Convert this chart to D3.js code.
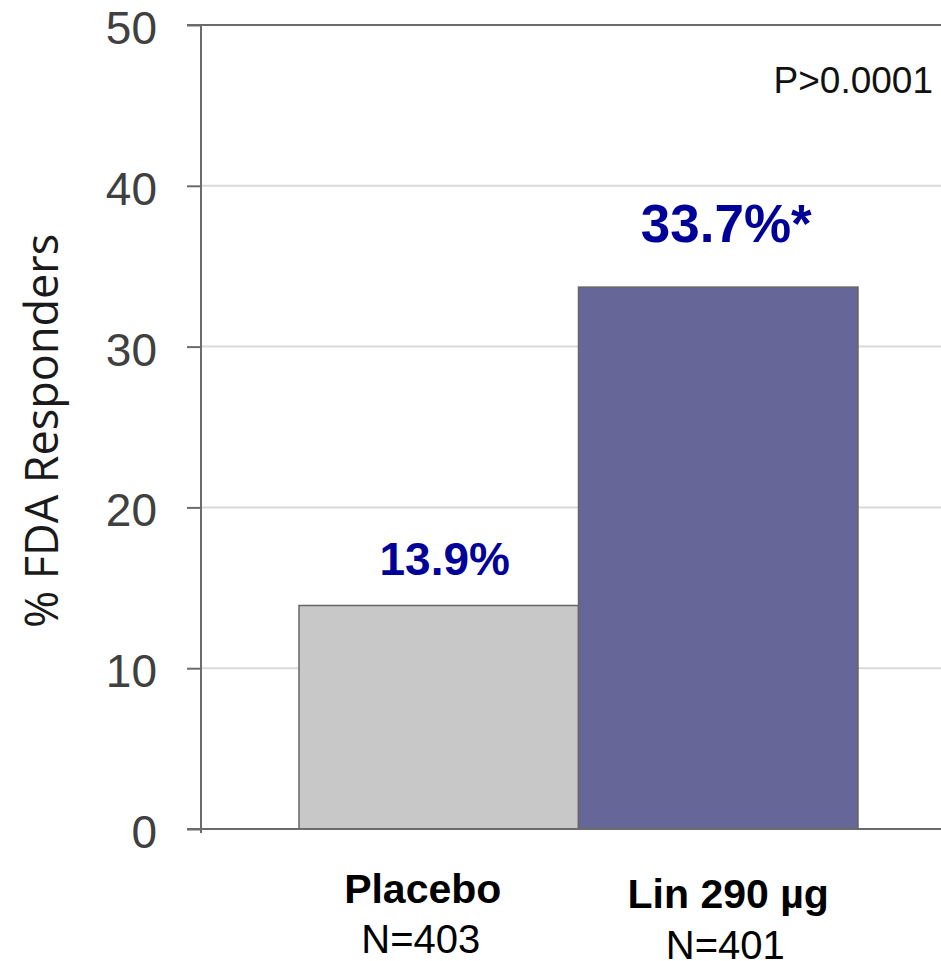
<!DOCTYPE html>
<html>
<head>
<meta charset="utf-8">
<script src="https://d3js.org/d3.v7.min.js"></script>
<style>
body { margin: 0; background: #fff; }
svg { display: block; }
</style>
</head>
<body>
<div id="chart"></div>
<script>
  // data
  var categories = ["Placebo", "Lin 290 µg"];
  var counts = ["N=403", "N=401"];
  var values = [13.9, 33.7];
  var valueLabels = ["13.9%", "33.7%*"];
  var yTicks = [0, 10, 20, 30, 40, 50];
  var pText = "P>0.0001";

  var width = 941;
  var height = 961;

  var svg = d3.select("#chart").append("svg")
    .attr("width", width)
    .attr("height", height);

  var yScale = d3.scaleLinear().domain([0, 50]).range([829, 25]);
  var xScale = d3.scaleBand().domain(categories).range([299, 858]).padding(0);

  var axisX = 201;

  // grid lines
  svg.append("g").selectAll("line")
    .data(yTicks.filter(function(d) { return d > 0 && d < 50; }))
    .enter().append("line")
      .attr("x1", axisX).attr("x2", width)
      .attr("y1", function(d) { return yScale(d); })
      .attr("y2", function(d) { return yScale(d); })
      .attr("stroke", "#d9d9d9")
      .attr("stroke-width", 2);

  // top border line
  svg.append("line")
    .attr("x1", 187).attr("x2", width)
    .attr("y1", yScale(50)).attr("y2", yScale(50))
    .attr("stroke", "#6b6b6b").attr("stroke-width", 2);

  // bars
  var barColors = ["#c8c8c8", "#666699"];
  svg.append("g").selectAll("rect")
    .data(values)
    .enter().append("rect")
      .attr("x", function(d, i) { return xScale(categories[i]); })
      .attr("y", function(d) { return yScale(d); })
      .attr("width", xScale.bandwidth())
      .attr("height", function(d) { return yScale(0) - yScale(d); })
      .attr("fill", function(d, i) { return barColors[i]; })
      .attr("stroke", "#666")
      .attr("stroke-width", 1.5);

  // y axis
  var yAxis = svg.append("g")
    .attr("transform", "translate(" + axisX + ",0)")
    .call(d3.axisLeft(yScale).tickValues(yTicks).tickSize(14).tickPadding(30));
  yAxis.select(".domain").attr("stroke", "#6b6b6b").attr("stroke-width", 2)
    .attr("d", "M0," + yScale(50) + "V" + (yScale(0) + 4));
  yAxis.selectAll(".tick line").attr("stroke", "#6b6b6b").attr("stroke-width", 2);
  yAxis.selectAll(".tick text")
    .attr("fill", "#404040")
    .attr("dy", "0.4em")
    .style("font-family", "'Liberation Sans', Arial, sans-serif")
    .style("font-size", "46px");

  // bottom axis line
  svg.append("line")
    .attr("x1", 187).attr("x2", width)
    .attr("y1", yScale(0)).attr("y2", yScale(0))
    .attr("stroke", "#6b6b6b").attr("stroke-width", 2);

  // value labels
  var labelSizes = [46, 53];
  var labelBase = [575, 242];
  var labelShift = [6, 8];
  svg.append("g").selectAll("text")
    .data(valueLabels)
    .enter().append("text")
      .attr("x", function(d, i) { return xScale(categories[i]) + xScale.bandwidth() / 2 + labelShift[i]; })
      .attr("y", function(d, i) { return labelBase[i]; })
      .attr("text-anchor", "middle")
      .attr("fill", "#000099")
      .style("font-family", "'Liberation Sans', Arial, sans-serif")
      .style("font-weight", "bold")
      .style("font-size", function(d, i) { return labelSizes[i] + "px"; })
      .text(function(d) { return d; });

  // category labels
  var catBase = [903, 908];
  var catShift = [-16, 10];
  var nBase = [953, 959];
  var nShift = [-18, 7];
  var cats = svg.append("g").selectAll("g")
    .data(categories)
    .enter().append("g");
  cats.append("text")
    .attr("x", function(d, i) { return xScale(d) + xScale.bandwidth() / 2 + catShift[i]; })
    .attr("y", function(d, i) { return catBase[i]; })
    .attr("text-anchor", "middle")
    .style("font-family", "'Liberation Sans', Arial, sans-serif")
    .style("font-weight", "bold")
    .style("font-size", "41px")
    .text(function(d) { return d; });
  cats.append("text")
    .attr("x", function(d, i) { return xScale(d) + xScale.bandwidth() / 2 + nShift[i]; })
    .attr("y", function(d, i) { return nBase[i]; })
    .attr("text-anchor", "middle")
    .style("font-family", "'Liberation Sans', Arial, sans-serif")
    .style("font-size", "40px")
    .text(function(d, i) { return counts[i]; });

  // p value
  svg.append("text")
    .attr("x", 933)
    .attr("y", 93)
    .attr("text-anchor", "end")
    .style("font-family", "'Liberation Sans', Arial, sans-serif")
    .style("font-size", "37px")
    .attr("fill", "#111")
    .text(pText);

  // y title
  svg.append("text")
    .attr("transform", "translate(58,431) rotate(-90)")
    .attr("text-anchor", "middle")
    .attr("fill", "#1a1a1a")
    .style("font-family", "'Open Sans', sans-serif")
    .style("font-size", "45px")
    .text("% FDA Responders");
</script>
</body>
</html>
